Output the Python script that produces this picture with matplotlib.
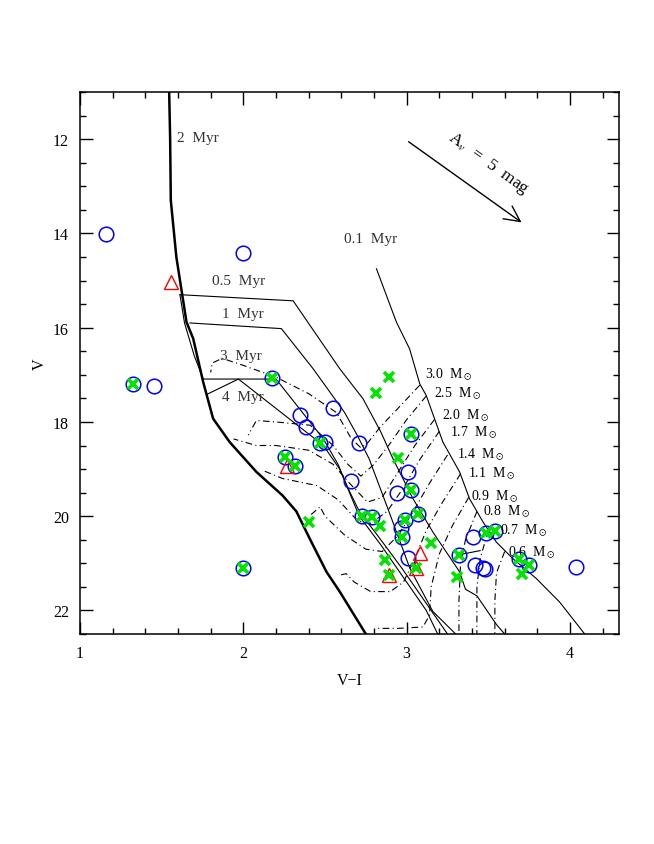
import numpy as np
import matplotlib
matplotlib.use("Agg")
import matplotlib.pyplot as plt
from matplotlib.ticker import MultipleLocator

plt.rcParams['font.family'] = ['Liberation Serif', 'DejaVu Serif']
plt.rcParams['mathtext.fontset'] = 'stix'

# observed stars (V-I, V)
circ_vi = [1.159, 2.0, 1.324, 1.453, 2.174, 2.35, 2.382, 2.549, 2.47, 2.50, 2.254, 2.319,
           2.662, 2.709, 2.729, 2.786, 2.0, 3.029, 3.008, 3.029, 2.943, 3.069, 2.992, 2.967,
           2.971, 3.008, 3.318, 3.406, 3.42, 3.467, 3.479, 3.483, 3.538, 3.687, 3.748, 4.038]
circ_v = [14.01, 14.41, 17.19, 17.23, 17.07, 17.86, 18.11, 17.71, 18.44, 18.42, 18.75, 18.93,
          19.25, 18.45, 20.0, 20.02, 21.10, 18.25, 19.06, 19.44, 19.50, 19.96, 20.09, 20.25,
          20.44, 20.88, 20.82, 20.44, 21.04, 21.10, 21.13, 20.35, 20.32, 20.91, 21.03, 21.08]

x_vi = [1.324, 2.174, 2.47, 2.254, 2.319, 2.729, 2.786, 2.0, 2.892, 2.815, 3.029, 2.947,
        3.029, 3.069, 2.992, 2.971, 3.147, 3.059, 2.892, 2.865, 2.835, 2.403, 3.318, 3.310,
        3.483, 3.538, 3.687, 3.748, 3.708]
x_v = [17.19, 17.07, 18.45, 18.75, 18.93, 20.0, 20.02, 21.10, 17.04, 17.38, 18.25, 18.76,
       19.44, 19.96, 20.09, 20.44, 20.57, 21.10, 21.24, 20.94, 20.20, 20.12, 20.82, 21.29,
       20.35, 20.32, 20.91, 21.03, 21.22]

tri_vi = [1.555, 2.27, 3.08, 3.059, 2.892]
tri_v = [15.03, 18.94, 20.79, 21.10, 21.24]

# thick line (2 Myr)
zams_vi = [1.546, 1.552, 1.556, 1.59, 1.652, 1.693, 1.754, 1.815, 1.917, 2.08, 2.24, 2.325,
           2.407, 2.509, 2.59, 2.75]
zams_v = [11.0, 12.0, 13.3, 14.5, 15.88, 16.23, 17.15, 17.93, 18.43, 19.06, 19.56, 19.90,
          20.48, 21.18, 21.6, 22.5]

# isochrones
iso01_vi = [2.815, 2.937, 3.018, 3.08, 3.12, 3.222, 3.324, 3.385, 3.467, 3.549, 3.65, 3.793, 3.936, 4.09]
iso01_v = [14.75, 15.88, 16.45, 17.19, 17.44, 18.43, 19.06, 19.63, 20.12, 20.55, 20.90, 21.32, 21.82, 22.5]
iso05_vi = [1.612, 2.305, 2.59, 2.733, 2.84, 2.916, 3.039, 3.161, 3.324, 3.36, 3.43, 3.55, 3.6]
iso05_v = [15.30, 15.43, 16.87, 17.51, 18.2, 18.78, 19.63, 20.34, 21.18, 21.55, 21.69, 22.3, 22.5]
iso1_vi = [1.673, 2.233, 2.427, 2.62, 2.70, 2.77, 2.90, 3.02, 3.16, 3.30]
iso1_v = [15.90, 16.02, 16.87, 17.8, 18.3, 18.78, 19.98, 21.11, 22.02, 22.5]
iso3_vi = [1.612, 1.64, 1.70, 1.755, 2.20, 2.49, 2.58, 2.64, 2.71, 2.82, 2.97, 3.11, 3.25]
iso3_v = [15.30, 15.9, 16.6, 17.09, 17.09, 18.36, 18.9, 19.4, 19.9, 20.4, 21.1, 21.8, 22.5]
iso4_vi = [1.78, 1.97, 2.49, 2.59, 2.65, 2.71, 2.84, 2.98, 3.12, 3.19]
iso4_v = [17.41, 17.09, 18.50, 19.0, 19.5, 20.0, 20.6, 21.3, 22.0, 22.5]
kink_vi = [3.318, 3.45]
kink_v = [20.82, 20.73]

# evolutionary tracks (dash-dot)
tracks = {
    '3.0': ([3.08, 2.95, 2.84, 2.76, 2.72, 2.66, 2.57, 2.40, 2.20, 2.00, 1.87, 1.81, 1.80],
            [17.22, 17.70, 18.10, 18.45, 18.55, 18.35, 17.80, 17.40, 17.05, 16.80, 16.65, 16.75, 16.95]),
    '2.5': ([3.12, 3.00, 2.90, 2.80, 2.72, 2.64, 2.55, 2.41, 2.20, 2.08, 2.03],
            [17.45, 17.95, 18.45, 18.90, 19.15, 18.90, 18.50, 18.07, 18.00, 17.97, 18.28]),
    '2.0': ([3.17, 3.05, 2.95, 2.85, 2.76, 2.65, 2.55, 2.40, 2.20, 2.08, 1.94],
            [17.95, 18.50, 19.05, 19.60, 19.70, 19.30, 18.90, 18.60, 18.50, 18.50, 18.36]),
    '1.7': ([3.20, 3.08, 2.98, 2.88, 2.78, 2.70, 2.58, 2.45, 2.24, 2.12],
            [18.20, 18.80, 19.40, 19.90, 20.15, 20.10, 19.65, 19.35, 19.20, 19.03]),
    '1.4': ([3.25, 3.14, 3.04, 2.95, 2.85, 2.75, 2.62, 2.50, 2.47, 2.41],
            [18.70, 19.30, 19.90, 20.40, 20.75, 20.70, 20.40, 20.00, 19.80, 19.98]),
    '1.1': ([3.33, 3.22, 3.12, 3.05, 2.98, 2.90, 2.78, 2.68, 2.63, 2.59],
            [19.10, 19.70, 20.30, 20.90, 21.40, 21.60, 21.60, 21.40, 21.22, 21.25]),
    '0.9': ([3.38, 3.28, 3.20, 3.15, 3.14, 3.10, 2.95, 2.82],
            [19.60, 20.20, 20.80, 21.50, 22.10, 22.35, 22.38, 22.38]),
    '0.8': ([3.43, 3.36, 3.33, 3.32, 3.32],
            [19.90, 20.50, 21.00, 21.80, 22.5]),
    '0.7': ([3.50, 3.45, 3.43, 3.43],
            [20.30, 20.90, 21.50, 22.5]),
    '0.6': ([3.60, 3.55, 3.54, 3.54],
            [20.75, 21.20, 21.80, 22.5]),
}

mass_lab = ['3.0', '2.5', '2.0', '1.7', '1.4', '1.1', '0.9', '0.8', '0.7', '0.6']
mass_lab_vi = [3.114, 3.165, 3.218, 3.263, 3.308, 3.375, 3.396, 3.467, 3.569, 3.62]
mass_lab_v = [16.98, 17.38, 17.84, 18.21, 18.67, 19.08, 19.56, 19.88, 20.28, 20.76]

age_lab = ['2  Myr', '0.5  Myr', '1  Myr', '3  Myr', '4  Myr', '0.1  Myr']
age_lab_vi = [1.591, 1.81, 1.867, 1.856, 1.867, 2.615]
age_lab_v = [11.96, 15.0, 15.69, 16.59, 17.45, 14.10]

fig = plt.figure(figsize=(6.54, 8.45), dpi=100)
ax = fig.add_axes([0.1223, 0.2485, 0.8242, 0.6414])

ax.plot(zams_vi, zams_v, color='k', lw=1.8)
for xs, ys in [(iso01_vi, iso01_v), (iso05_vi, iso05_v), (iso1_vi, iso1_v),
               (iso3_vi, iso3_v), (iso4_vi, iso4_v), (kink_vi, kink_v)]:
    ax.plot(xs, ys, color='k', lw=0.8)
for m in tracks:
    ax.plot(tracks[m][0], tracks[m][1], color='k', lw=0.8, ls=(0, (6, 3, 1, 3)))

ax.plot(circ_vi, circ_v, 'o', mfc='none', mec='#0000ff', ms=10.5, mew=1.1, zorder=3)
ax.plot(tri_vi, tri_v, '^', mfc='none', mec='#ff0000', ms=10, mew=1.0, zorder=4)
ax.plot(x_vi, x_v, 'x', color='#00e600', ms=7.5, mew=2.6, zorder=5)

for t, xx, yy in zip(age_lab, age_lab_vi, age_lab_v):
    ax.text(xx, yy, t, fontsize=11, color='#333333', ha='left', va='center')
for t, xx, yy in zip(mass_lab, mass_lab_vi, mass_lab_v):
    ax.text(xx, yy, t + r'  M$_\odot$', fontsize=10, color='k', ha='left', va='center')

ax.annotate('', xy=(3.717, 13.80), xytext=(2.998, 12.02),
            arrowprops=dict(arrowstyle='->', lw=1.0, color='k', mutation_scale=28))
ax.text(3.50, 12.51, r'A$_v$  =  5  mag', fontsize=12.5, rotation=-35.5,
        rotation_mode='anchor', ha='center', va='center')

ax.set_xlim(1, 4.3)
ax.set_ylim(22.5, 11)
ax.xaxis.set_major_locator(MultipleLocator(1))
ax.xaxis.set_minor_locator(MultipleLocator(0.2))
ax.yaxis.set_major_locator(MultipleLocator(2))
ax.yaxis.set_minor_locator(MultipleLocator(0.5))
ax.tick_params(which='both', direction='in', top=True, right=True, width=1.0, labelsize=11.5)
ax.tick_params(which='major', length=9, pad=8)
ax.tick_params(which='minor', length=4.5)
for s in ax.spines.values():
    s.set_linewidth(1.1)
ax.set_xlabel('V\u2212I', fontsize=11.5, labelpad=8)
ax.set_ylabel('V', fontsize=11.5, labelpad=4)

fig.savefig('out.png', dpi=100)
